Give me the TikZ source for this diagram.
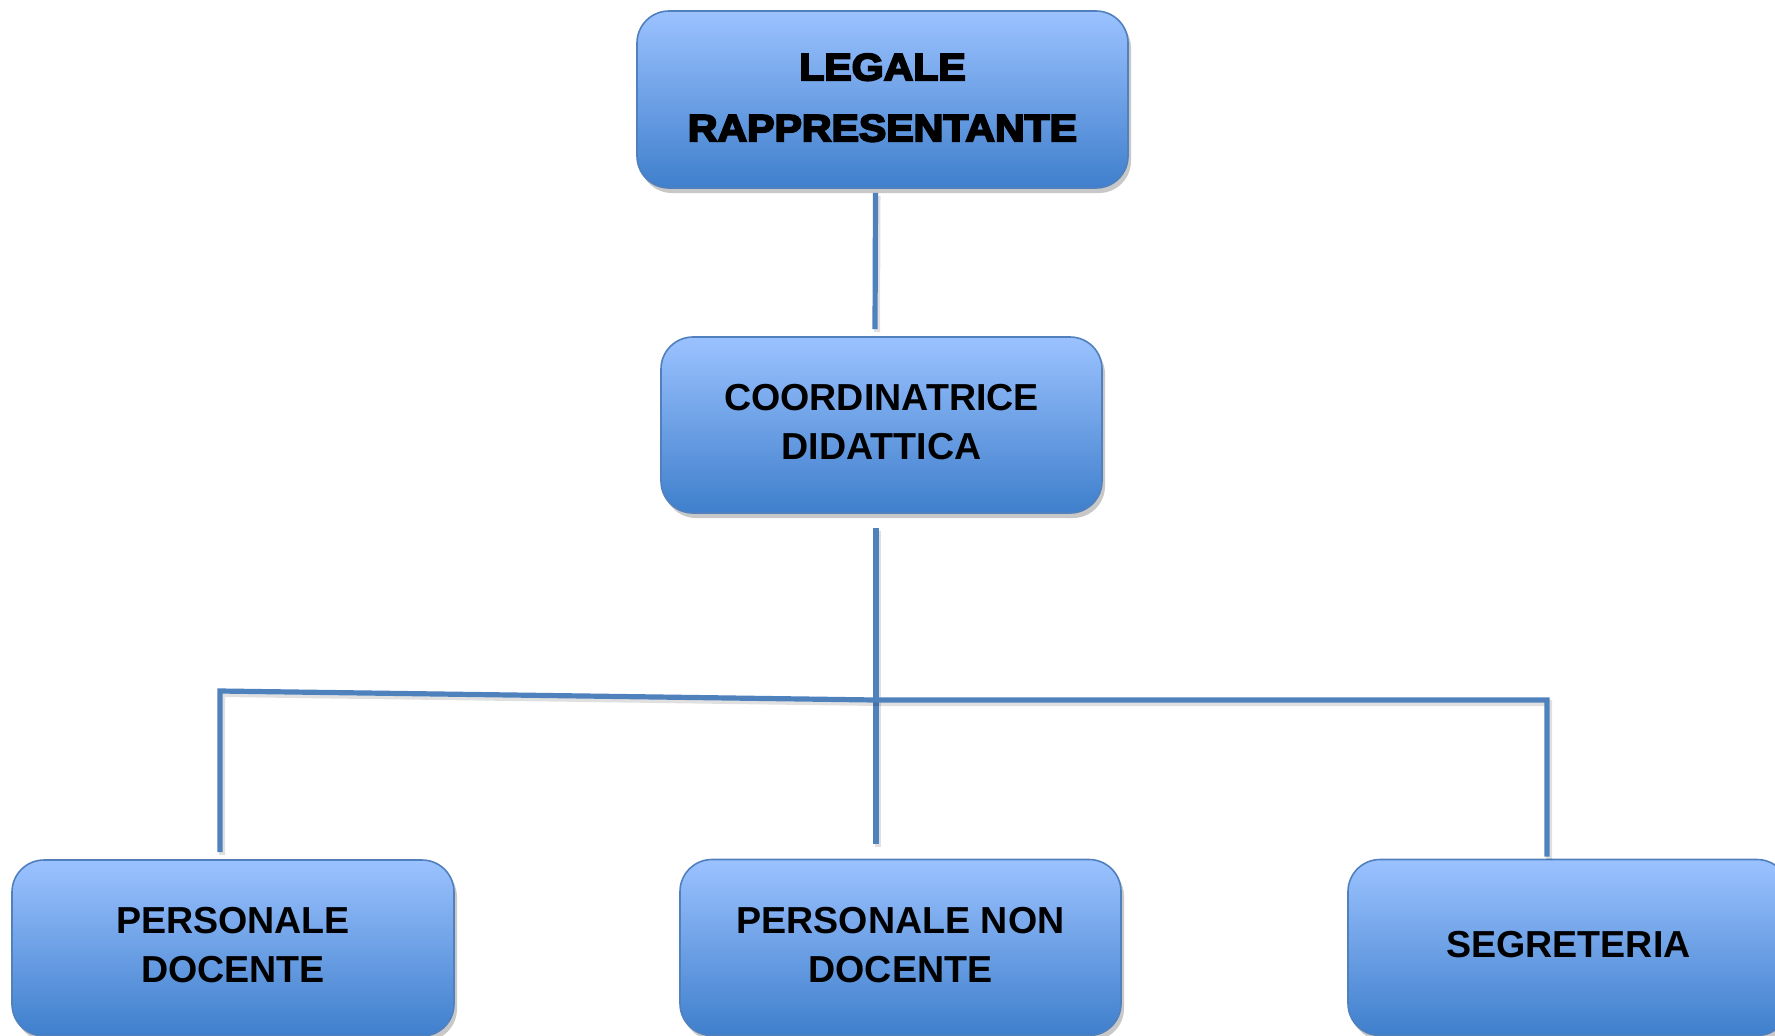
\documentclass[tikz,border=0pt]{standalone}
\usepackage{fontspec}
\setmainfont{Liberation Sans}
\newfontfamily\heavyfont[FakeBold=5,FakeStretch=1.08]{Liberation Sans Bold}
\usetikzlibrary{shadows}
\definecolor{boxtop}{RGB}{155,194,255}
\definecolor{boxbot}{RGB}{63,127,204}
\definecolor{boxline}{RGB}{80,128,190}
\definecolor{connline}{RGB}{79,129,189}
\begin{document}
\begin{tikzpicture}[x=0.5pt,y=-0.5pt,
  orgbox/.style={draw=boxline, line width=0.8pt, rounded corners=16pt,
    top color=boxtop, bottom color=boxbot, inner sep=0pt,
    minimum width=220.5pt, minimum height=88pt, align=center, text depth=3pt,
    font=\fontsize{18.8}{24.5}\selectfont\bfseries,
    drop shadow={shadow xshift=1.5pt, shadow yshift=-2.5pt, opacity=0.3, fill=black!70}},
  conn/.style={draw=connline, line width=2.6pt, line join=miter, line cap=butt,
    preaction={draw=black, opacity=0.12, line width=3pt, transform canvas={shift={(1pt,-1.5pt)}}}}
  ]
\useasboundingbox (0,0) rectangle (1775,1035);
\fill[white] (0,0) rectangle (1775,1035);

\node[orgbox, minimum width=245.5pt, minimum height=88.5pt, text depth=2pt,
  font=\fontsize{19}{30.5}\selectfont\heavyfont] (top) at (882.5,99.5) {LEGALE\\RAPPRESENTANTE};
\node[orgbox] (coord) at (881.5,425) {COORDINATRICE\\DIDATTICA};
\node[orgbox, minimum width=221pt] (pd) at (233,948) {PERSONALE\\DOCENTE};
\node[orgbox] (pnd) at (900.5,947.5) {PERSONALE NON\\DOCENTE};
\node[orgbox] (seg) at (1568.5,947.5) {SEGRETERIA};

\coordinate (lc) at (220,691);
\coordinate (j) at (876,700);
\coordinate (rc) at (1547,700);

\draw[conn] ([xshift=-3.5pt,yshift=-2pt]top.south) -- ([xshift=-3.25pt,yshift=3.5pt]coord.north);
\draw[conn] ([xshift=-2.75pt,yshift=-7pt]coord.south) -- ([xshift=-12.25pt,yshift=7.5pt]pnd.north);
\draw[conn] ([xshift=-6.5pt,yshift=3.5pt]pd.north) -- (lc) -- (j) -- (rc) -- ([xshift=-10.75pt,yshift=1pt]seg.north);
\end{tikzpicture}
\end{document}
